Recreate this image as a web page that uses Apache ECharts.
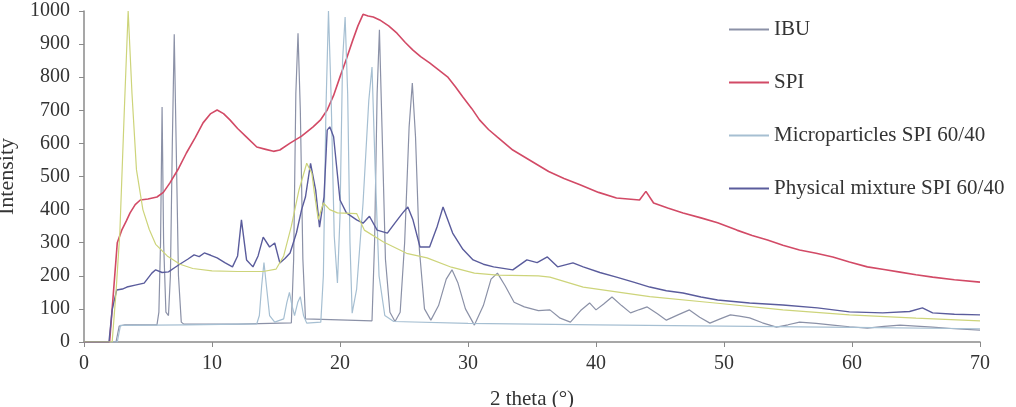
<!DOCTYPE html>
<html>
<head>
<meta charset="utf-8">
<script src="https://cdn.jsdelivr.net/npm/echarts@6/dist/echarts.min.js"></script>
<style>
html,body{margin:0;padding:0;background:#fff;}
#xrdChart{width:1016px;height:407px;}
</style>
</head>
<body>
<div id="xrdChart"></div>
<script>
// legend names
var seriesNames = ['IBU', 'SPI', 'Microparticles SPI 60/40', 'Physical mixture SPI 60/40'];

// [2 theta, intensity]
var ibuData = [[0,0],[2.5,0],[2.75,48],[3.2,52],[5.7,52],[5.85,90],[5.98,300],[6.1,710],[6.22,300],[6.4,90],[6.6,80],[6.75,200],
	[6.9,600],[7.05,930],[7.2,600],[7.38,200],[7.6,60],[7.8,54],[12,54],[16.2,58],[16.38,250],[16.55,750],[16.72,933],
	[16.9,700],[17.1,250],[17.3,70],[22.5,64],[22.7,300],[22.9,750],[23.08,943],[23.28,650],[23.55,250],[23.9,90],[24.3,62],
	[24.7,90],[25.05,300],[25.4,650],[25.65,782],[25.9,620],[26.2,280],[26.6,100],[27.1,66],[27.7,110],[28.3,190],
	[28.75,218],[29.2,180],[29.8,100],[30.5,51],[31.2,110],[31.8,190],[32.3,208],[32.9,170],[33.6,120],[34.4,106],
	[35.5,95],[36.4,97],[37.2,72],[38,60],[38.8,95],[39.5,118],[40,97],[40.6,115],[41.25,136],[42,110],[42.7,88],[43.4,98],
	[44,106],[44.8,85],[45.5,66],[46.4,82],[47.3,97],[48.1,75],[48.9,57],[49.7,70],[50.5,82],[51.2,78],[52,73],[53,58],
	[54.1,45],[55,52],[55.9,60],[57.2,56],[58.5,51],[59.8,46],[61.2,42],[62.5,47],[63.75,51],[65,48],[66.3,45],[68,40],[70,36]];

var spiData = [[0,0],[2.0,0],[2.3,150],[2.6,300],[2.95,338],[3.3,365],[3.6,390],[4.0,415],[4.4,429],[5.0,432],[5.7,438],
	[6.2,452],[6.7,480],[7.4,525],[8.0,571],[8.7,618],[9.3,662],[9.9,690],[10.4,701],[10.9,690],[11.4,671],[12.0,645],
	[12.7,619],[13.5,589],[14.2,582],[14.8,576],[15.3,580],[16.1,601],[17.0,622],[17.9,650],[18.5,672],[19.0,701],[19.5,745],
	[20,801],[20.5,855],[21,912],[21.4,955],[21.8,990],[22.2,985],[22.6,982],[23.1,973],[23.8,955],[24.45,933],[25.1,905],
	[25.7,882],[26.3,862],[27,843],[27.7,822],[28.4,801],[29.0,772],[29.6,740],[30.3,705],[30.9,671],[31.6,642],[32.3,619],
	[33.5,580],[34.8,550],[36.3,515],[37.5,494],[38.75,475],[40.2,452],[41.6,435],[43.4,429],[43.9,455],[44.5,420],[45.6,405],
	[46.8,390],[48.2,375],[49.5,360],[51,338],[52.2,322],[53.4,308],[54.6,292],[55.9,278],[57.2,268],[58.5,257],[59.8,242],
	[61.2,227],[62.5,219],[63.75,211],[65,203],[66.3,196],[68,188],[70,181]];

var microData = [[0,0],[2.6,0],[2.85,50],[8,52],[13.5,55],[13.7,80],[13.88,170],[14.06,240],[14.25,170],[14.5,80],[14.9,60],
	[15.6,70],[15.85,120],[16.05,150],[16.25,110],[16.45,80],[16.7,120],[16.9,137],[17.15,80],[17.4,57],[18.5,60],[18.7,200],
	[18.9,700],[19.1,1000],[19.3,750],[19.55,320],[19.8,178],[20.0,380],[20.2,850],[20.4,982],[20.6,750],[20.78,300],
	[20.95,87],[21.3,160],[21.8,420],[22.25,730],[22.5,831],[22.75,520],[23.05,200],[23.5,80],[24.2,62],[30,56],[40,52],
	[50,48],[60,44],[70,40]];

var mixData = [[0,0],[1.95,0],[2.2,97],[2.55,157],[3.0,160],[3.35,166],[4.0,172],[4.7,178],[5.3,208],[5.6,218],[6.1,210],
	[6.6,212],[7.1,225],[7.6,238],[8.1,250],[8.6,263],[9.0,258],[9.4,269],[9.9,262],[10.4,254],[11.0,240],[11.6,227],
	[12.0,260],[12.3,369],[12.7,248],[13.2,227],[13.6,260],[14.0,317],[14.5,287],[14.9,299],[15.3,239],[15.7,252],[16.1,269],
	[16.6,330],[17.0,400],[17.3,438],[17.7,540],[18.1,459],[18.4,347],[18.75,438],[19.0,640],[19.2,650],[19.5,620],[20,429],
	[20.5,390],[21.3,369],[21.8,359],[22.3,380],[22.9,338],[23.7,329],[24.3,360],[24.9,390],[25.3,408],[25.7,369],[26.25,287],
	[27,287],[27.6,350],[28.05,408],[28.8,329],[29.6,280],[30.4,248],[31.2,235],[32,227],[33.5,218],[34.6,248],[35.4,240],
	[36.2,257],[37,227],[38.2,239],[39,227],[40.3,210],[41.6,196],[43,180],[44.2,166],[45.5,155],[46.8,148],[48.2,136],
	[49.5,127],[52,118],[54.6,112],[57.3,103],[59.8,91],[62.4,88],[64.5,92],[65.5,103],[66.3,88],[68,84],[70,82]];

// unlabeled yellow trace
var yellowData = [[0,0],[2.2,0],[2.5,150],[2.8,330],[3.15,700],[3.45,1000],[3.75,750],[4.1,520],[4.6,400],[5.1,340],[5.6,295],
	[6.5,260],[7.5,235],[8.5,222],[10,215],[12,213],[14,213],[15,220],[15.6,260],[16.2,350],[16.8,460],[17.4,540],[17.8,510],
	[18.0,450],[18.3,370],[18.7,420],[19.2,400],[19.8,390],[21.3,388],[21.9,338],[23.4,302],[25.2,268],[26.8,254],[28.7,226],
	[30.5,208],[32.3,202],[35.5,200],[36.4,196],[39,166],[44.2,137],[49.5,117],[54.6,97],[59.8,82],[65,72],[70,64]];

var seriesColors = ['#8b91a7', '#d24a66', '#a6bfd2', '#5a5c9c', '#cdd47a'];

function makeLine(name, data, color, width){
	return {
		name: name,
		type: 'line',
		data: data,
		showSymbol: false,
		symbol: 'none',
		color: color,
		lineStyle: {width: width, color: color},
		animation: false
	};
}

var myChart = echarts.init(document.getElementById('xrdChart'));
var fontFam = "'Liberation Serif', 'DejaVu Serif', serif";

var option = {
	backgroundColor: '#fff',
	animation: false,
	grid: {left: 84, right: 36, top: 11, bottom: 65, containLabel: false, outerBoundsMode: 'none'},
	legend: {
		data: seriesNames,
		orient: 'vertical',
		left: 724,
		top: 14,
		itemGap: 32,
		itemWidth: 40,
		itemHeight: 2,
		icon: 'rect',
		textStyle: {fontFamily: fontFam, fontSize: 21, color: '#333'}
	},
	xAxis: {
		type: 'value',
		min: 0,
		max: 70,
		interval: 10,
		name: '2 theta (°)',
		nameLocation: 'middle',
		nameGap: 47,
		nameTextStyle: {fontFamily: fontFam, fontSize: 21, color: '#333'},
		splitLine: {show: false},
		axisLine: {lineStyle: {color: '#8a8a8a', width: 1.5}},
		axisTick: {length: 5, lineStyle: {color: '#8a8a8a'}},
		axisLabel: {fontFamily: fontFam, fontSize: 20, color: '#333', margin: 12}
	},
	yAxis: {
		type: 'value',
		min: 0,
		max: 1000,
		interval: 100,
		name: 'Intensity',
		nameLocation: 'middle',
		nameGap: 66,
		nameTextStyle: {fontFamily: fontFam, fontSize: 22, color: '#333'},
		splitLine: {show: false},
		axisLine: {show: true, lineStyle: {color: '#8a8a8a', width: 1.5}},
		axisTick: {show: true, length: 5, lineStyle: {color: '#8a8a8a'}},
		axisLabel: {fontFamily: fontFam, fontSize: 20, color: '#333', margin: 14,
			formatter: function(v){ return String(v); }}
	},
	series: [
		makeLine(seriesNames[0], ibuData, seriesColors[0], 1.2),
		makeLine(seriesNames[1], spiData, seriesColors[1], 1.6),
		makeLine(seriesNames[2], microData, seriesColors[2], 1.2),
		makeLine(seriesNames[3], mixData, seriesColors[3], 1.4),
		makeLine('', yellowData, seriesColors[4], 1.2)
	]
};
myChart.setOption(option);
</script>
</body>
</html>
